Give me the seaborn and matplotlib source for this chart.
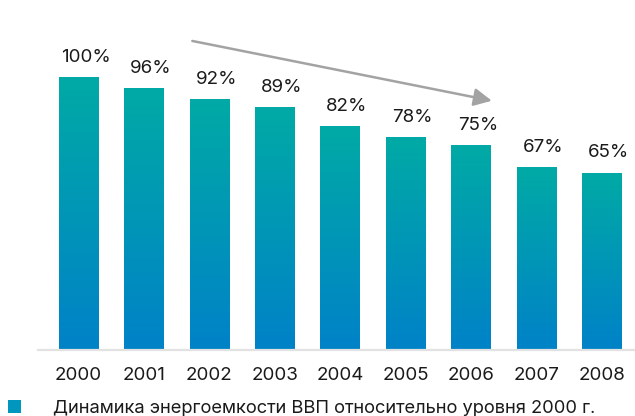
import numpy as np
import pandas as pd
import matplotlib
matplotlib.use("Agg")
import matplotlib.pyplot as plt
import seaborn as sns
from matplotlib.patches import Patch
from matplotlib.colors import LinearSegmentedColormap

years = ["2000", "2001", "2002", "2003", "2004", "2005", "2006", "2007", "2008"]
values = [100, 96, 92, 89, 82, 78, 75, 67, 65]
labels = ["100%", "96%", "92%", "89%", "82%", "78%", "75%", "67%", "65%"]
legend_label = "Динамика энергоемкости ВВП относительно уровня 2000 г."

sns.set_theme(style="white")
plt.rcParams["font.family"] = ["Inter", "DejaVu Sans"]

df = pd.DataFrame({"year": years, "value": values})

fig = plt.figure(figsize=(6.35, 4.16), dpi=100)
ax = fig.add_axes([38 / 635, 66 / 416, 597 / 635, 350 / 416])

sns.barplot(data=df, x="year", y="value", width=0.6, color="#0096BE", ax=ax)

cmap = LinearSegmentedColormap.from_list("g", ["#0082C8", "#00AAA5"])
grad = np.linspace(0, 1, 256).reshape(-1, 1)
for p in ax.patches:
    x0, y0 = p.get_x(), p.get_y()
    w, h = p.get_width(), p.get_height()
    p.set_facecolor("none")
    p.set_edgecolor("none")
    im = ax.imshow(grad, cmap=cmap, aspect="auto", origin="lower",
                   extent=[x0, x0 + w, y0, y0 + h], zorder=2)
    im.set_clip_path(p)

for i, (v, lab) in enumerate(zip(values, labels)):
    ax.annotate(lab, xy=(i, v), xytext=(5, 11), textcoords="offset points",
                ha="center", va="baseline", fontsize=13.5, color="#1a1a1a")

ax.annotate("", xy=(6.32, 91.3), xytext=(1.74, 113.2),
            arrowprops=dict(arrowstyle="-|>,head_length=0.9,head_width=0.45",
                            color="#a3a3a3", lw=1.8, shrinkA=0, shrinkB=0))

ax.set_xlim(-0.62, 8.51)
ax.set_ylim(0, 128.2)
ax.set_xlabel("")
ax.set_ylabel("")
ax.set_yticks([])
ax.tick_params(axis="x", length=0, pad=12, labelsize=13.5, labelcolor="#1a1a1a")
for s in ["top", "left", "right"]:
    ax.spines[s].set_visible(False)
ax.spines["bottom"].set_color("#e2e2e2")
ax.spines["bottom"].set_linewidth(1.6)

handle = Patch(facecolor="#0096BE", edgecolor="none")
fig.legend([handle], [legend_label], loc="lower left", bbox_to_anchor=(0.0, -0.022),
           frameon=False, fontsize=13.2, handlelength=0.7, handleheight=0.7,
           handletextpad=1.75, borderaxespad=0.0, borderpad=0.45,
           labelcolor="#1a1a1a")

fig.savefig("out.png", dpi=100)
